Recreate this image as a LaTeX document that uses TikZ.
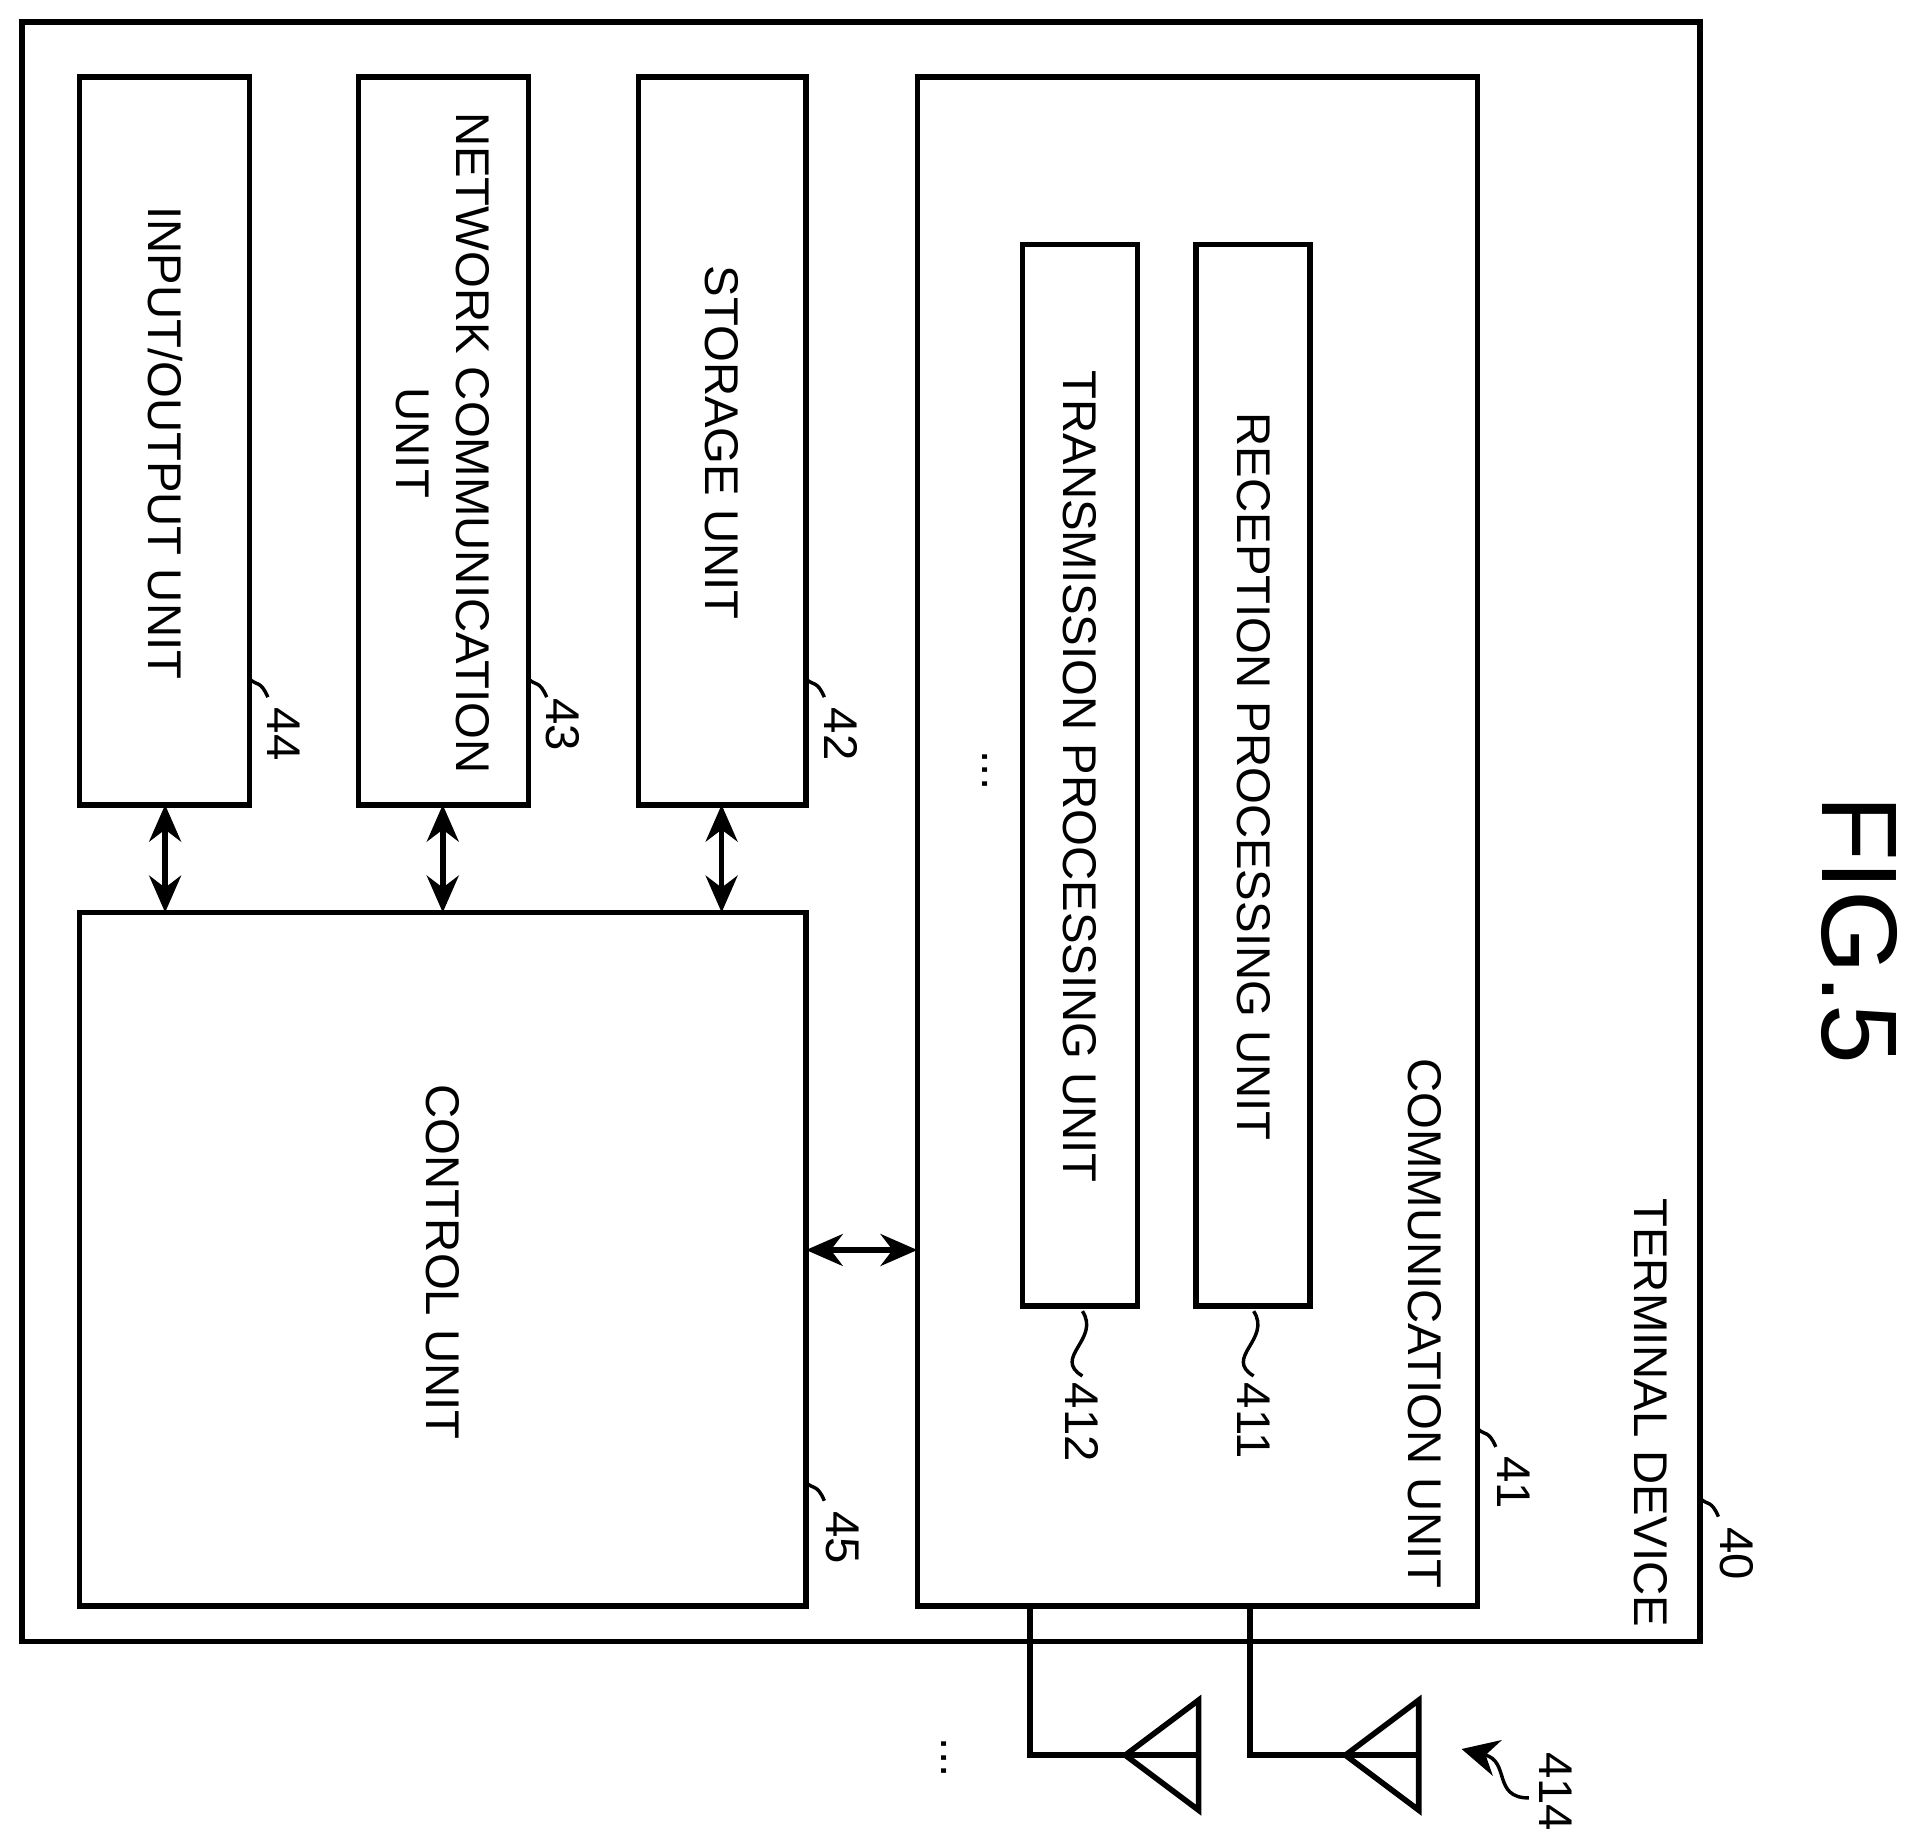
\documentclass[tikz,border=0pt]{standalone}
\usepackage{fontspec}
\setmainfont{Liberation Sans}
\usetikzlibrary{arrows.meta,positioning}
\tikzset{
    unitbox/.style = {
        draw=black,
        line width=1.3pt,
        inner sep=0pt
    },
    unitlabel/.style = {
        rotate=-90,
        align=center,
        font=\fontsize{11}{14}\selectfont
    },
    reflabel/.style = {
        rotate=-90,
        anchor=west,
        inner sep=0pt,
        font=\fontsize{11}{14}\selectfont
    },
    biarrow/.style = {
        line width=1.3pt,
        {Stealth[length=3mm,width=2.6mm]}-{Stealth[length=3mm,width=2.6mm]}
    },
    wire/.style = {
        line width=1.3pt
    },
    squiggle/.style = {
        line width=0.8pt
    }
}
\newcommand{\refsquiggle}[3]{% start point, label point, label
    \draw[squiggle] (#1) .. controls +(6,6) and +(-6,-14) .. ++(15,15);
    \node[reflabel] at (#2) {#3};
}
\begin{document}
\begin{tikzpicture}[x=0.01cm,y=-0.01cm]
    \useasboundingbox (0,0) rectangle (1560,1508);
    % boxes
    \draw[unitbox] (18,18) rectangle (1390,1342);
    \draw[unitbox] (65,63) rectangle (204,658);
    \draw[unitbox] (293,63) rectangle (432,658);
    \draw[unitbox] (522,63) rectangle (659,658);
    \draw[unitbox] (750,63) rectangle (1208,1313);
    \draw[unitbox] (978,200) rectangle (1071,1068);
    \draw[unitbox] (836,200) rectangle (930,1068);
    \draw[unitbox] (65,746) rectangle (659,1313);
    % texts
    \node[unitlabel] (termtext) at (1350,1155) {TERMINAL DEVICE};
    \node[unitlabel] (iotext) at (135,362) {INPUT/OUTPUT UNIT};
    \node[unitlabel] (nettext) at (362,362) {NETWORK COMMUNICATION\\UNIT};
    \node[unitlabel] (stortext) at (590,362) {STORAGE UNIT};
    \node[unitlabel] (commtext) at (1165,1082) {COMMUNICATION UNIT};
    \node[unitlabel] (rectext) at (1025,635) {RECEPTION PROCESSING UNIT};
    \node[unitlabel] (trtext) at (883,635) {TRANSMISSION PROCESSING UNIT};
    \node[unitlabel] (ctrltext) at (362,1032) {CONTROL UNIT};
    \node[unitlabel] (dotsa) at (805,630) {...};
    \node[unitlabel] (dotsb) at (772,1437) {...};
    \node[rotate=-90, font=\fontsize{25}{30}\selectfont] (figtext) at (1520,760) {FIG.5};
    % connectors
    \coordinate (ioS) at (135,658);   \coordinate (ioC) at (135,746);
    \coordinate (netS) at (362,658);  \coordinate (netC) at (362,746);
    \coordinate (storS) at (590,658); \coordinate (storC) at (590,746);
    \coordinate (ctrlE) at (659,1022); \coordinate (commW) at (750,1022);
    \draw[biarrow] (ioS) -- (ioC);
    \draw[biarrow] (netS) -- (netC);
    \draw[biarrow] (storS) -- (storC);
    \draw[biarrow] (ctrlE) -- (commW);
    % antennas
    \foreach \ax/\name in {1022/anta, 842/antb} {
        \coordinate (\name top) at (\ax,1313);
        \coordinate (\name tip) at (\ax+78,1435);
        \draw[wire] (\name top) |- (\name tip) -- ++(60,0);
        \draw[wire] (\name tip) -- ++(60,-45) -- ++(0,90) -- cycle;
    }
    % reference signs
    \refsquiggle{1390,1225}{1420,1248}{40}
    \refsquiggle{1208,1168}{1238,1190}{41}
    \refsquiggle{659,1212}{689,1235}{45}
    \refsquiggle{204,555}{232,578}{44}
    \refsquiggle{432,555}{460,570}{43}
    \refsquiggle{659,555}{688,578}{42}
    \draw[squiggle] (1025,1072) .. controls (1040,1095) and (1000,1110) .. (1025,1125);
    \node[reflabel] (ref411) at (1025,1130) {411};
    \draw[squiggle] (885,1072) .. controls (900,1095) and (860,1110) .. (885,1125);
    \node[reflabel] (ref412) at (885,1130) {412};
    \node[reflabel] (ref414) at (1272,1432) {414};
    \draw[squiggle, -{Stealth[length=3mm,width=3mm]}] (1250,1470) .. controls (1220,1470) and (1235,1440) .. (1195,1430);
\end{tikzpicture}
\end{document}
